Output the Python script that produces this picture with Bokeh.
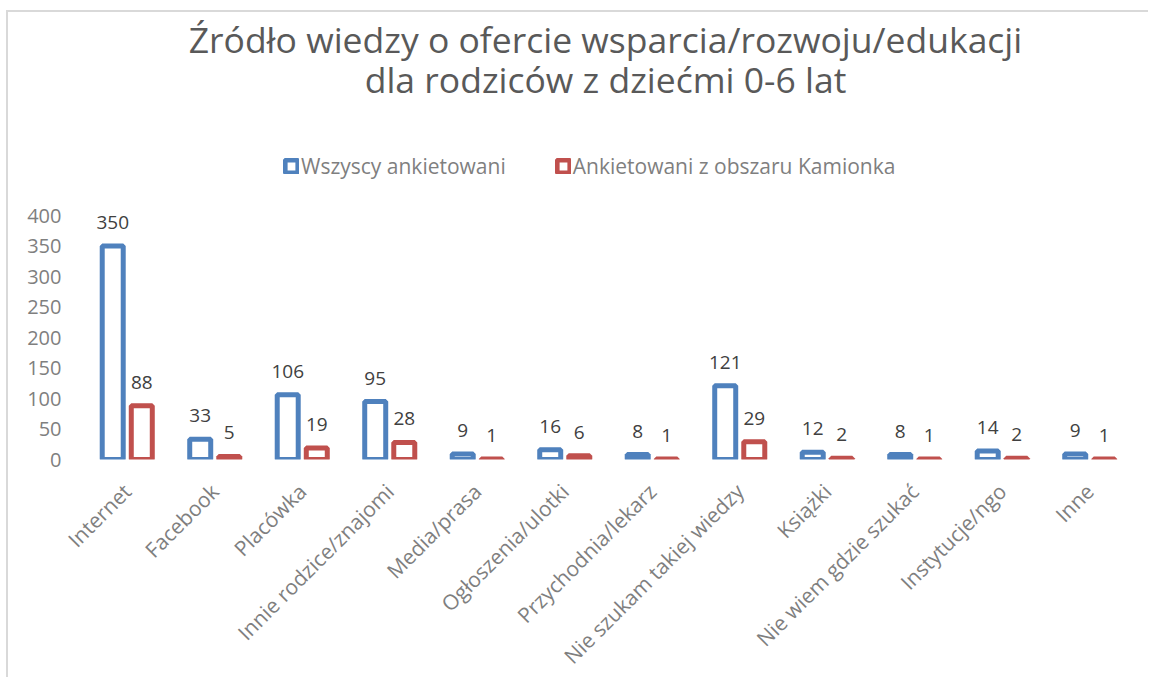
import math
from bokeh.plotting import figure
from bokeh.models import (ColumnDataSource, Range1d, FixedTicker, Legend, LegendItem,
                          LabelSet, Label)
from bokeh.core.properties import value
from bokeh.transform import dodge
from bokeh.embed import file_html
from bokeh.resources import INLINE

categories = ["Internet", "Facebook", "Placówka", "Innie rodzice/znajomi", "Media/prasa",
              "Ogłoszenia/ulotki", "Przychodnia/lekarz", "Nie szukam takiej wiedzy",
              "Książki", "Nie wiem gdzie szukać", "Instytucje/ngo", "Inne"]
wszyscy = [350, 33, 106, 95, 9, 16, 8, 121, 12, 8, 14, 9]
kamionka = [88, 5, 19, 28, 1, 6, 1, 29, 2, 1, 2, 1]
series_names = ["Wszyscy ankietowani", "Ankietowani z obszaru Kamionka"]
title_lines = ["Źródło wiedzy o ofercie wsparcia/rozwoju/edukacji",
               "dla rodziców z dziećmi 0-6 lat"]
y_ticks = [0, 50, 100, 150, 200, 250, 300, 350, 400]

FONT = "Open Sans"
BLUE = "#4F81BD"
RED = "#C0504D"

FRAME_W = 1050
FRAME_H = 447
AXIS_PX = 244  # pixels used by 0..400

src = ColumnDataSource(dict(cat=categories, w=wszyscy, k=kamionka,
                            wl=[str(v) for v in wszyscy], kl=[str(v) for v in kamionka]))

p = figure(x_range=categories, y_range=Range1d(0, 400 * FRAME_H / AXIS_PX),
           frame_width=FRAME_W, frame_height=FRAME_H,
           output_backend="svg", toolbar_location=None,
           min_border_left=75, min_border_right=15, min_border_top=0, min_border_bottom=214)
p.outline_line_color = None
p.xgrid.visible = False
p.ygrid.visible = False
p.x_range.range_padding = 0

off = 0.166
bw = 0.24
r1 = p.vbar(x=dodge("cat", -off, range=p.x_range), top="w", width=bw, source=src,
            fill_color="white", line_color=BLUE, line_width=5)
r2 = p.vbar(x=dodge("cat", off, range=p.x_range), top="k", width=bw, source=src,
            fill_color="white", line_color=RED, line_width=5)

for col, lab, o in (("w", "wl", -off), ("k", "kl", off)):
    ls = LabelSet(x=dodge("cat", o, range=p.x_range), y=col, text=lab, source=src,
                  text_align="center", text_baseline="bottom", y_offset=17,
                  text_font=value(FONT), text_font_size="19px", text_color="#404040")
    p.add_layout(ls)

p.yaxis.ticker = FixedTicker(ticks=y_ticks)
p.yaxis.axis_line_color = None
p.yaxis.major_tick_line_color = None
p.yaxis.minor_tick_line_color = None
p.yaxis.major_label_text_font = FONT
p.yaxis.major_label_text_font_size = "20px"
p.yaxis.major_label_text_color = "#7f7f7f"
p.yaxis.major_label_standoff = 16

p.xaxis.axis_line_color = None
p.xaxis.major_tick_line_color = None
p.xaxis.major_label_orientation = math.pi / 4
p.xaxis.major_label_text_font = FONT
p.xaxis.major_label_text_font_size = "21px"
p.xaxis.major_label_text_color = "#7f7f7f"
p.xaxis.major_label_standoff = 22

legend = Legend(items=[LegendItem(label=series_names[0], renderers=[r1]),
                       LegendItem(label=series_names[1], renderers=[r2])],
                orientation="horizontal", location=(200, 279),
                label_text_font=FONT, label_text_font_size="21px", label_text_color="#7f7f7f",
                glyph_width=16, glyph_height=16, spacing=49, label_standoff=2,
                border_line_color=None, background_fill_alpha=0, margin=0, padding=2)
p.add_layout(legend)

for txt, yb in ((title_lines[0], 421), (title_lines[1], 381)):
    p.add_layout(Label(x=FRAME_W / 2 - 3, y=yb, x_units="screen", y_units="screen", text=txt,
                       text_align="center", text_baseline="alphabetic", text_font=FONT,
                       text_font_size="35.5px", text_color="#595959"))

p.styles = {"border-top": "2px solid #d9d9d9", "border-left": "2px solid #d9d9d9",
            "margin-left": "6px", "margin-top": "10px"}

open("out.html", "w").write(file_html(p, INLINE))
